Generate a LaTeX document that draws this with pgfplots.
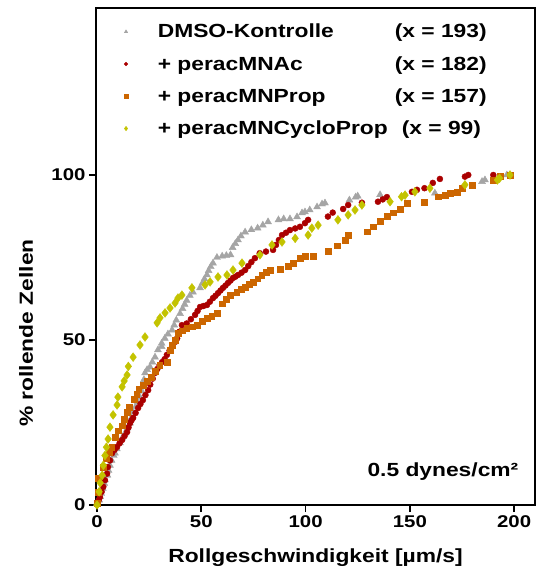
\documentclass[border=0pt]{standalone}
\usepackage{pgfplots}
\pgfplotsset{compat=1.18}
\usepackage{fontspec}
\setmainfont{Liberation Sans}[FakeStretch=1.2]
\definecolor{cgray}{RGB}{165,165,165}
\definecolor{cred}{RGB}{170,0,0}
\definecolor{corange}{RGB}{204,102,0}
\definecolor{cyellow}{RGB}{195,195,0}
\begin{document}
\begin{tikzpicture}
\useasboundingbox (-96pt,-63pt) rectangle (447pt,505pt);
\begin{axis}[
 at={(0,0)}, anchor=south west, scale only axis, width=439pt, height=497pt,
 xmin=-0.5, xmax=210, ymin=0, ymax=150.6,
 xtick={0,50,100,150,200}, ytick={0,50,100},
 axis line style={line width=1.8pt},
 every tick/.style={black, line width=1.8pt}, major tick length=7pt, tick align=outside,
 xtick pos=left, ytick pos=left,
 ticklabel style={font=\fontsize{17}{20}\selectfont\bfseries},
 /pgf/number format/assume math mode=true,
 label style={font=\fontsize{19}{22}\selectfont\bfseries},
 xlabel={Rollgeschwindigkeit [µm/s]},
 ylabel={\% rollende Zellen},
 xlabel style={at={(axis description cs:0.5,-0.105)}, anchor=center},
 ylabel style={at={(axis description cs:-0.159,0.346)}, anchor=center},
 clip=false,
 legend style={draw=none, fill=none, at={(axis description cs:0.057,0.976)}, anchor=north west,
   font=\fontsize{19}{22}\selectfont\bfseries, row sep=13pt,
   /tikz/every odd column/.append style={column sep=28pt}},
 legend cell align=left,
]
\addplot[only marks, mark=triangle*, mark size=4pt, color=cgray, forget plot] coordinates {
(0,0.5)(1,1.5)(1.5,2.5)(2,3.5)(2.8,5)(3.5,6.5)(3.8,7.6)(5,9)(5.5,10.5)(6.2,12)(7,13.5)(8,15)(8.6,15.7)(9.5,17)(11,18.8)(12,20.3)(13.4,21.8)(14.5,23.3)(15.8,24.8)(16.5,26.5)(17.3,28.2)(18.5,29.8)(19.5,31.2)(20.6,32.7)(21.5,34.5)(22,36.3)(22.5,38)(23,40)(24,41)(25.4,41.8)(26.5,43.3)(27.8,44.8)(29.2,47)(31,48)(31,49)(32.5,50.5)(34,51.8)(36,53)(37,54.5)(38,56)(39.8,58)(41,59.5)(42,60.8)(43,62)(44.5,63.5)(46,64.5)(49.4,65.8)(50.5,67.2)(51.5,68.5)(52.7,69.7)(53.5,71)(54.5,72.2)(55.6,73.3)(57.5,75)(60,75.4)(62,75.6)(64,75.8)(65,78)(66.3,79.2)(67.6,80.3)(69,81.5)(71,82.7)(74,83.4)(77,83.9)(79.5,84.8)(82,85.8)(87,86.4)(89.5,86.7)(92.5,86.7)(95.9,87.3)(98.3,88.5)(99.7,88.8)(102,89.4)(105.5,90.3)(107.9,91.2)(109.3,91.5)(121,92.4)(124,93.3)(125,93.6)(135.7,94)(162,94.5)(172.6,94.5)(184.6,98)(186,98.5)(196.5,100)
};
\addplot[only marks, mark=*, mark size=3pt, color=cred, forget plot] coordinates {
(0,0.3)(0.8,1.5)(1.4,2.4)(2.2,4)(3,5.5)(3.8,7.5)(4.8,9.5)(5.2,11.5)(6.2,13.5)(7.2,15.7)(8.4,16.7)(9.6,17.6)(10.8,18.7)(12,19.7)(13.2,20.9)(14.4,22.1)(15.1,23.5)(15.8,24.8)(16.5,25.6)(17.3,26.4)(18.5,27.9)(19.7,29.4)(20.8,30.6)(22,31.8)(23.2,33.3)(24.5,34.8)(25.5,36.5)(26.7,38.3)(27.8,40)(28.9,41.2)(30,42.4)(31.2,43.3)(32.4,44.2)(33.5,45.5)(34.8,46.8)(36,48)(37.4,49.4)(38.4,50.5)(39.5,52.5)(40.7,54.5)(43,55)(45,56.3)(47,57.6)(48.2,58.8)(49.4,60)(51,60.3)(52.7,60.6)(54.1,61.6)(55.6,62.7)(56.8,63.4)(58,64.2)(59.2,65)(60.4,65.8)(61.6,66.5)(62.8,67.3)(64,68)(65.2,68.8)(66.4,69.2)(67.6,69.7)(69.3,70.4)(71,71.2)(72.5,72.4)(74,73.6)(75.7,74.8)(78,76.3)(81,76.8)(84.4,77.3)(85.8,78.8)(87.2,80.3)(88.7,81.8)(90.6,82.5)(92.5,83.3)(95,83.8)(97.3,84.3)(99.7,85.4)(101.2,86.4)(110.7,87.4)(113,88.6)(118,89.7)(120.4,90.9)(127,91.6)(134.7,91.9)(137,92.6)(139,93.3)(151,94.9)(153.4,95.5)(157,96)(161,97.6)(164.4,98.8)(176.4,99.5)(178,100)(190,100)
};
\addplot[only marks, mark=square*, mark size=2.9pt, color=corange, forget plot] coordinates {
(0,0.6)(0.5,4)(0.5,8)(3,11.5)(4.5,14)(6,16)(7,17.6)(8.6,20.6)(10,22.5)(12,24)(13,26)(14.5,28)(15.5,29.7)(18,32)(19,33.5)(20,35)(22,36.4)(24,37.6)(26,38.8)(28,40.6)(30,42.4)(33.5,43.3)(35,47)(36,48.5)(37.4,50)(39,52)(41,52.8)(43,53.6)(45.5,54)(48,54.5)(50.5,55.6)(53,56.7)(55,57.3)(57.5,58)(60,61)(62,62.3)(64,63.6)(67,64.5)(69,65.3)(71,66)(73,66.8)(75,67.6)(77,68.6)(79,69.7)(81,70.5)(83,71.2)(87.7,71.4)(91.6,72.4)(94,73.3)(97.3,74.8)(100,75.3)(103.5,75.5)(110.7,76.8)(115,78.6)(119,80.3)(120.4,81.8)(129.4,82.8)(132.3,84.3)(135.7,85.9)(139,87.6)(141.9,88.6)(145.3,89.6)(148.6,91.4)(157,91.8)(163.5,93.4)(166.8,93.9)(169.2,94.5)(172.6,94.9)(175,96)(179.8,97)(190,98.5)(193.2,99.7)(198,100)
};
\addplot[only marks, mark=diamond*, mark size=4.4pt, color=cyellow, forget plot] coordinates {
(0,0)(1,4)(1.5,6.7)(2.5,9)(3,12)(3.8,15)(4.5,17.5)(5.3,20)(6.2,23.6)(7.7,27.3)(9.6,30.3)(10,32.7)(12,35.8)(13,37.6)(14.4,39.4)(15,42)(17.3,44.8)(20.6,48.5)(23,50.9)(28.8,55.2)(30.2,56.7)(32.6,58.2)(35,59.7)(37.4,61.2)(38.8,62.7)(40.7,63.6)(45.5,65.8)(51.8,66.7)(54.2,67.6)(58,69.1)(62.3,69.7)(65.2,71.2)(69.5,73.3)(78.1,75.8)(83.9,78.8)(88.7,79.7)(95,80.8)(101.2,81.8)(103,83.9)(106,84.8)(115.5,86.4)(120.4,87.9)(123.7,89.4)(127,90.9)(140.5,91.9)(146,93.4)(147.7,93.9)(152.4,94.9)(159.6,96)(176.4,97)(192,98.5)(193,99)(198,100)
};
\addlegendimage{only marks, mark=triangle*, mark size=2pt, color=cgray}
\addlegendentry{\makebox[237pt][l]{DMSO-Kontrolle}(x = 193)}
\addlegendimage{only marks, mark=*, mark size=1.8pt, color=cred}
\addlegendentry{\makebox[237pt][l]{+ peracMNAc}(x = 182)}
\addlegendimage{only marks, mark=square*, mark size=1.7pt, color=corange}
\addlegendentry{\makebox[237pt][l]{+ peracMNProp}(x = 157)}
\addlegendimage{only marks, mark=diamond*, mark size=2.2pt, color=cyellow}
\addlegendentry{\makebox[244pt][l]{+ peracMNCycloProp}(x = 99)}
\node[anchor=east, font=\fontsize{19}{22}\selectfont\bfseries] at (axis cs:203.7,10) {0.5 dynes/cm²};
\end{axis}
\end{tikzpicture}
\end{document}
